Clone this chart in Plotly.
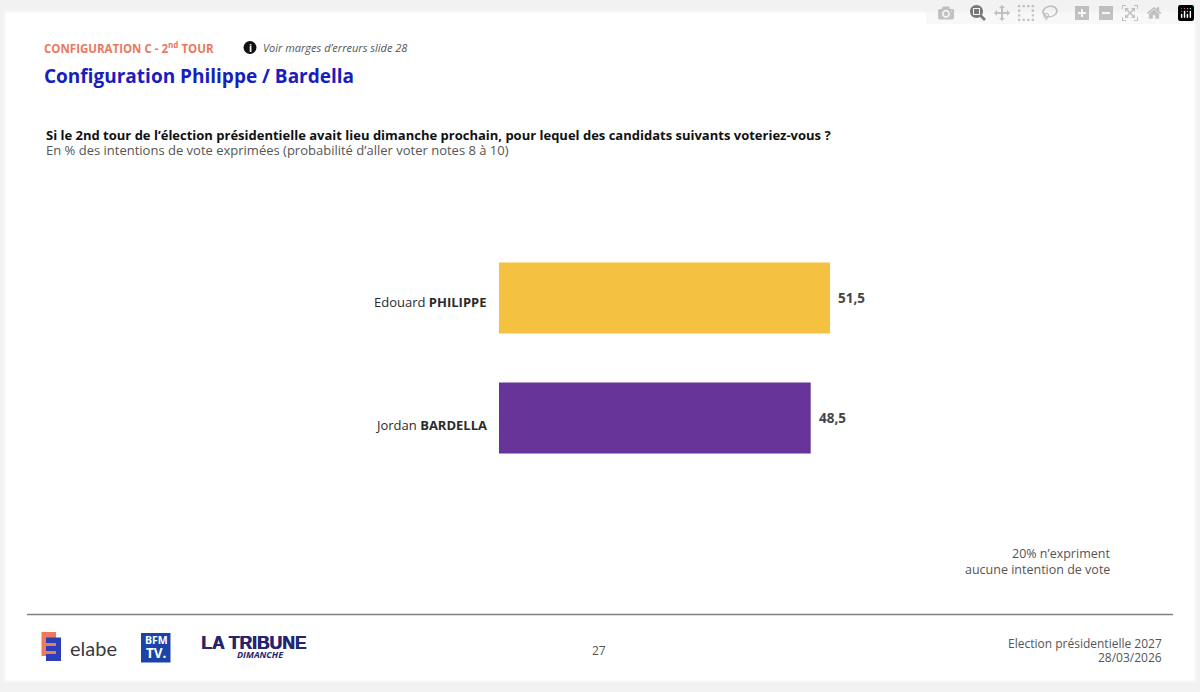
import plotly.graph_objects as go

W, H = 1200, 692

candidates = ["Edouard <b>PHILIPPE</b>", "Jordan <b>BARDELLA</b>"]
scores = [51.5, 48.5]
score_labels = ["51,5", "48,5"]
bar_colors = ["#F5C141", "#663399"]

font_name = "Open Sans"
grey_text = "#555555"
dark_text = "#2b2b2b"


# positions below are read in pixels from the top left of the slide
def px(x):
    return x / W


def py(y):
    return 1 - y / H


def note(x, y, text, size, color=grey_text, anchor="left", family=font_name, shadow=None):
    font = dict(family=family, size=size, color=color)
    if shadow:
        font["shadow"] = shadow
    return dict(xref="paper", yref="paper", x=px(x), y=py(y), text=text, showarrow=False,
                xanchor=anchor, yanchor="middle", align=anchor, font=font)


def box(x0, y0, x1, y1, color, width=0):
    return dict(type="rect", xref="paper", yref="paper", x0=px(x0), x1=px(x1), y0=py(y0), y1=py(y1),
                fillcolor=color, line=dict(width=width, color=color), layer="below")


fig = go.Figure()
fig.add_trace(go.Bar(
    x=scores, y=candidates,
    orientation='h',
    marker=dict(color=bar_colors, line=dict(width=0)),
    hoverinfo='skip',
    showlegend=False
))

shapes = [
    box(4, 11, 1196, 682, "#F9F9F9"),
    box(6, 13, 1194, 680, "#FFFFFF"),
    # footer rule
    dict(type="line", xref="paper", yref="paper", x0=px(27), x1=px(1173), y0=py(614.5), y1=py(614.5),
         line=dict(color="#7f7f7f", width=1.5)),
    # info icon
    dict(type="circle", xref="paper", yref="paper", x0=px(243.5), x1=px(256.5), y0=py(41), y1=py(54),
         fillcolor="#111111", line=dict(width=0)),
    # elabe logo
    box(41.5, 632, 56, 656, "#EC7A5C"),
    box(46, 637.5, 61, 661, "#2A3FB8"),
    box(46, 643, 56, 646, "#EC7A5C"),
    box(46, 651, 56, 654, "#EC7A5C"),
    # BFM logo
    box(141, 633, 170.5, 662.5, "#1C44A8"),
]

annotations = [
    note(42, 48, "<b>CONFIGURATION C - 2<sup>nd</sup> TOUR</b>", 11.5, "#E9785F"),
    note(250, 48, "<b>i</b>", 10, "#FFFFFF", "center"),
    note(261, 48, "<i>Voir marges d’erreurs slide 28</i>", 11),
    note(42, 76, "<b>Configuration Philippe / Bardella</b>", 19, "#1720BE"),
    note(43.5, 135, "<b>Si le 2nd tour de l’élection présidentielle avait lieu dimanche prochain, pour lequel des candidats suivants voteriez-vous ?</b>", 13, "#111111"),
    note(43.5, 149.5, "En % des intentions de vote exprimées (probabilité d’aller voter notes 8 à 10)", 13, grey_text),
    note(1112, 553, "20% n’expriment", 12.5, grey_text, "right"),
    note(1112, 569, "aucune intention de vote", 12.5, grey_text, "right"),
    note(599, 650, "27", 12, grey_text, "center"),
    note(1164, 643, "Election présidentielle 2027", 12, grey_text, "right"),
    note(1164, 657, "28/03/2026", 12, grey_text, "right"),
    note(68, 648, "elabe", 20, "#3a3a3a", family="Lato"),
    note(156, 640, "<b>BFM</b>", 10.5, "#FFFFFF", "center"),
    note(156, 653, "<b>TV.</b>", 13.5, "#FFFFFF", "center"),
    note(253, 643, "<b>LA TRIBUNE</b>", 17.5, "#25256F", "center", family="Liberation Sans", shadow="0.7px 0 0 #25256F"),
    note(260, 654, "<b><i>DIMANCHE</i></b>", 9, "#25256F", "center"),
]

# category names sit a little below the bar centres in the slide
for name, shift in zip(candidates, [-3.5, -6.5]):
    annotations.append(dict(x=0, y=name, xref="x", yref="y", text=name, showarrow=False,
                            xanchor="right", xshift=-10, yshift=shift,
                            font=dict(family=font_name, size=13, color=dark_text)))

for name, score, label in zip(candidates, scores, score_labels):
    annotations.append(dict(x=score, y=name, xref="x", yref="y", text="<b>" + label + "</b>", showarrow=False,
                            xanchor="left", xshift=6, yshift=0,
                            font=dict(family=font_name, size=13.5, color="#444444")))

fig.update_layout(
    width=W, height=H,
    margin=dict(l=0, r=0, t=0, b=0),
    paper_bgcolor="#F2F2F2",
    plot_bgcolor="rgba(0,0,0,0)",
    bargap=0.408,
    shapes=shapes,
    annotations=annotations,
    xaxis=dict(domain=[px(499), px(884.6)], range=[0, 60], visible=False),
    yaxis=dict(domain=[py(478), py(238)], autorange="reversed", visible=False, type="category",
               categoryorder="array", categoryarray=candidates),
)

fig.write_html("out.html", post_script="document.body.style.margin = '0';")
